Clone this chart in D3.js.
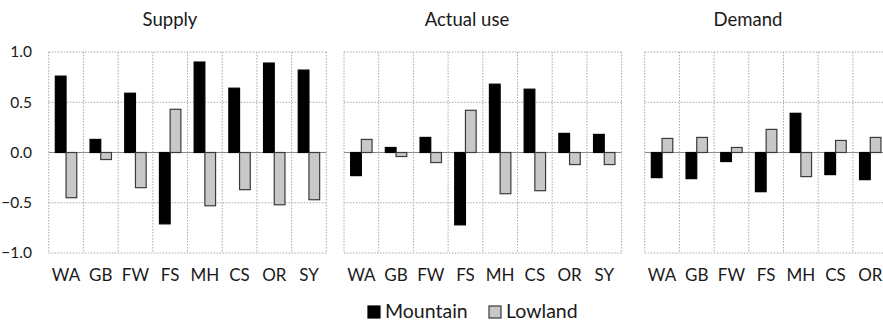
<!DOCTYPE html>
<html>
<head>
<meta charset="utf-8">
<script src="https://cdn.jsdelivr.net/npm/d3@7"></script>
<style>
  body { margin: 0; background: #fff; }
  svg { display: block; font-family: Lato, "Open Sans", sans-serif; }
</style>
</head>
<body>
<div id="chart"></div>
<script>
// Data
const categories = ["WA", "GB", "FW", "FS", "MH", "CS", "OR", "SY"];
const demandCategories = ["WA", "GB", "FW", "FS", "MH", "CS", "OR"];
const seriesNames = ["Mountain", "Lowland"];

const supplyMountain = [0.76, 0.13, 0.59, -0.71, 0.90, 0.64, 0.89, 0.82];
const supplyLowland = [-0.45, -0.07, -0.35, 0.43, -0.53, -0.37, -0.52, -0.47];

const useMountain = [-0.23, 0.05, 0.15, -0.72, 0.68, 0.63, 0.19, 0.18];
const useLowland = [0.13, -0.04, -0.10, 0.42, -0.41, -0.38, -0.12, -0.12];

const demandMountain = [-0.25, -0.26, -0.09, -0.39, 0.39, -0.22, -0.27];
const demandLowland = [0.14, 0.15, 0.05, 0.23, -0.24, 0.12, 0.15];

const yTicks = [-1.0, -0.5, 0.0, 0.5, 1.0];

const panels = [
  { title: "Supply", cats: categories, m: supplyMountain, l: supplyLowland, x0: 48.7, titleX: 170, yLabels: true },
  { title: "Actual use", cats: categories, m: useMountain, l: useLowland, x0: 344, titleX: 467, yLabels: false },
  { title: "Demand", cats: demandCategories, m: demandMountain, l: demandLowland, x0: 644.7, titleX: 748, yLabels: false }
];

const width = 883, height = 323;
const catWidth = 34.7;
const colors = { Mountain: "#000000", Lowland: "#c8c8c8" };
const strokes = { Mountain: "#000000", Lowland: "#3a3a3a" };

const svg = d3.select("#chart")
  .append("svg")
  .attr("width", width)
  .attr("height", height);

const y = d3.scaleLinear()
  .domain([-1, 1])
  .range([253, 52]);

panels.forEach(p => {
  const x = d3.scaleBand()
    .domain(p.cats)
    .range([p.x0, p.x0 + catWidth * p.cats.length])
    .padding(0);

  const xs = d3.scaleBand()
    .domain(seriesNames)
    .range([0, x.bandwidth()])
    .paddingInner(0)
    .paddingOuter(0.62);

  const g = svg.append("g");

  // horizontal dotted grid
  g.selectAll("line.hgrid")
    .data(yTicks.filter(t => t !== 0))
    .enter()
    .append("line")
    .attr("class", "hgrid")
    .attr("x1", x.range()[0])
    .attr("x2", x.range()[1])
    .attr("y1", d => y(d))
    .attr("y2", d => y(d))
    .style("stroke", "#a8a8a8")
    .style("stroke-width", 1)
    .style("stroke-dasharray", "1.5,1.5");

  // vertical dotted grid at category boundaries
  const vLines = p.cats.map(c => x(c)).concat([x.range()[1]]);
  g.selectAll("line.vgrid")
    .data(vLines)
    .enter()
    .append("line")
    .attr("class", "vgrid")
    .attr("x1", d => d)
    .attr("x2", d => d)
    .attr("y1", y(1))
    .attr("y2", y(-1))
    .style("stroke", "#a8a8a8")
    .style("stroke-width", 1)
    .style("stroke-dasharray", "1.5,1.5");

  // zero line
  g.append("line")
    .attr("x1", x.range()[0])
    .attr("x2", x.range()[1])
    .attr("y1", y(0))
    .attr("y2", y(0))
    .style("stroke", "#8c8c8c")
    .style("stroke-width", 1.2);

  // bars
  const rows = [];
  p.cats.forEach((c, i) => {
    rows.push({ cat: c, series: "Mountain", value: p.m[i] });
    rows.push({ cat: c, series: "Lowland", value: p.l[i] });
  });

  g.selectAll("rect.bar")
    .data(rows)
    .enter()
    .append("rect")
    .attr("class", "bar")
    .attr("x", d => x(d.cat) + xs(d.series))
    .attr("y", d => y(Math.max(0, d.value)))
    .attr("width", xs.bandwidth())
    .attr("height", d => Math.abs(y(d.value) - y(0)))
    .style("fill", d => colors[d.series])
    .style("stroke", d => strokes[d.series])
    .style("stroke-width", 1.2);

  // x-axis labels
  const xAxis = d3.axisBottom(x).tickSize(0).tickPadding(0);
  const ax = g.append("g")
    .attr("class", "x-axis")
    .attr("transform", `translate(0, 269)`)
    .call(xAxis);
  ax.select(".domain").remove();
  ax.selectAll("text")
    .style("font-size", "17px")
    .style("font-family", "Lato, sans-serif")
    .style("fill", "#1a1a1a");

  // y-axis labels (first panel only)
  if (p.yLabels) {
    const yAxis = d3.axisLeft(y).tickValues(yTicks).tickSize(0).tickPadding(0)
      .tickFormat(d3.format(".1f"));
    const ay = g.append("g")
      .attr("class", "y-axis")
      .attr("transform", `translate(32, 0)`)
      .call(yAxis);
    ay.select(".domain").remove();
    ay.selectAll("text")
      .style("font-size", "15.5px")
      .style("font-family", "Lato, sans-serif")
      .style("fill", "#1a1a1a");
  }

  // panel title
  svg.append("text")
    .attr("x", p.titleX)
    .attr("y", 26)
    .style("text-anchor", "middle")
    .style("font-size", "18.5px")
    .style("fill", "#1a1a1a")
    .text(p.title);
});

// legend
const legend = svg.append("g").attr("class", "legend");
const legendX = [368, 489];
seriesNames.forEach((s, i) => {
  legend.append("rect")
    .attr("x", legendX[i])
    .attr("y", 306)
    .attr("width", 12)
    .attr("height", 12)
    .style("fill", colors[s])
    .style("stroke", strokes[s])
    .style("stroke-width", 1.2);
  legend.append("text")
    .attr("x", legendX[i] + 17)
    .attr("y", 318)
    .style("font-size", "19.5px")
    .style("fill", "#1a1a1a")
    .text(s);
});
</script>
</body>
</html>
